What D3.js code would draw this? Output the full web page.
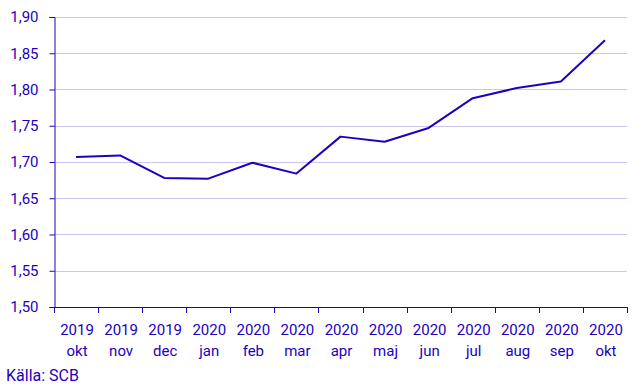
<!DOCTYPE html>
<html>
<head>
<meta charset="utf-8">
<script src="https://cdn.jsdelivr.net/npm/d3@7"></script>
<style>
  body { margin: 0; background: #fff; }
  text { font-family: Roboto, sans-serif; }
</style>
</head>
<body>
<div class="js-chart"></div>
<script>
'use strict';

const years = ['2019', '2019', '2019', '2020', '2020', '2020', '2020', '2020', '2020', '2020', '2020', '2020', '2020'];
const months = ['okt', 'nov', 'dec', 'jan', 'feb', 'mar', 'apr', 'maj', 'jun', 'jul', 'aug', 'sep', 'okt'];
const values = [1.707, 1.709, 1.678, 1.677, 1.699, 1.684, 1.735, 1.728, 1.747, 1.788, 1.802, 1.811, 1.868];
const yTicks = [1.50, 1.55, 1.60, 1.65, 1.70, 1.75, 1.80, 1.85, 1.90];

const ink = '#1e00be';
const width = 643;
const height = 386;
const margin = {top: 17, right: 16, bottom: 79, left: 54};

const svg = d3.select('.js-chart')
  .append('svg')
  .attr('width', width)
  .attr('height', height);

const keys = d3.range(values.length);

const x = d3.scaleBand()
  .domain(keys)
  .range([margin.left, width - margin.right]);

const y = d3.scaleLinear()
  .domain([1.50, 1.90])
  .range([height - margin.bottom, margin.top]);

const fmt = d => d3.format('.2f')(d).replace('.', ',');

// gridlines
svg.append('g')
  .selectAll('line')
  .data(yTicks.slice(1))
  .enter()
  .append('line')
  .attr('x1', margin.left)
  .attr('x2', width - margin.right)
  .attr('y1', d => Math.round(y(d)) + 0.5)
  .attr('y2', d => Math.round(y(d)) + 0.5)
  .attr('stroke', '#c9c6ef')
  .attr('stroke-width', 1);

// y axis
const yAxis = svg.append('g')
  .attr('transform', `translate(${margin.left + 0.5},0)`)
  .call(d3.axisLeft(y).tickValues(yTicks).tickFormat(fmt).tickSize(5).tickPadding(11));
yAxis.select('.domain').attr('stroke', ink);
yAxis.selectAll('.tick line').attr('stroke', ink);
yAxis.selectAll('text')
  .attr('fill', ink)
  .style('font-size', '15px');

// x axis
const xAxis = svg.append('g')
  .attr('transform', `translate(0,${height - margin.bottom + 0.5})`)
  .call(d3.axisBottom(x).tickSize(0).tickFormat(''));
xAxis.select('.domain').attr('stroke', ink).attr('d', `M${margin.left},0H${width - margin.right}`);

svg.append('g')
  .selectAll('line')
  .data(d3.range(values.length + 1))
  .enter()
  .append('line')
  .attr('x1', i => Math.round(margin.left + i * x.step()) + 0.5)
  .attr('x2', i => Math.round(margin.left + i * x.step()) + 0.5)
  .attr('y1', height - margin.bottom)
  .attr('y2', height - margin.bottom + 6)
  .attr('stroke', ink);

const labels = svg.append('g')
  .selectAll('text')
  .data(keys)
  .enter()
  .append('text')
  .attr('x', i => x(i) + x.bandwidth() / 2 + 1)
  .attr('text-anchor', 'middle')
  .attr('fill', ink)
  .style('font-size', '15px');
labels.append('tspan')
  .attr('x', i => x(i) + x.bandwidth() / 2 + 1)
  .attr('y', 335)
  .text(i => years[i]);
labels.append('tspan')
  .attr('x', i => x(i) + x.bandwidth() / 2 + 1)
  .attr('y', 356)
  .text(i => months[i]);

// line
const line = d3.line()
  .x((d, i) => x(i) + x.bandwidth() / 2)
  .y(d => y(d));

svg.append('path')
  .datum(values)
  .attr('fill', 'none')
  .attr('stroke', ink)
  .attr('stroke-width', 2)
  .attr('stroke-linejoin', 'round')
  .attr('d', line);

// source
svg.append('text')
  .attr('x', 6)
  .attr('y', 381)
  .attr('fill', ink)
  .style('font-size', '16px')
  .text('Källa: SCB');
</script>
</body>
</html>
